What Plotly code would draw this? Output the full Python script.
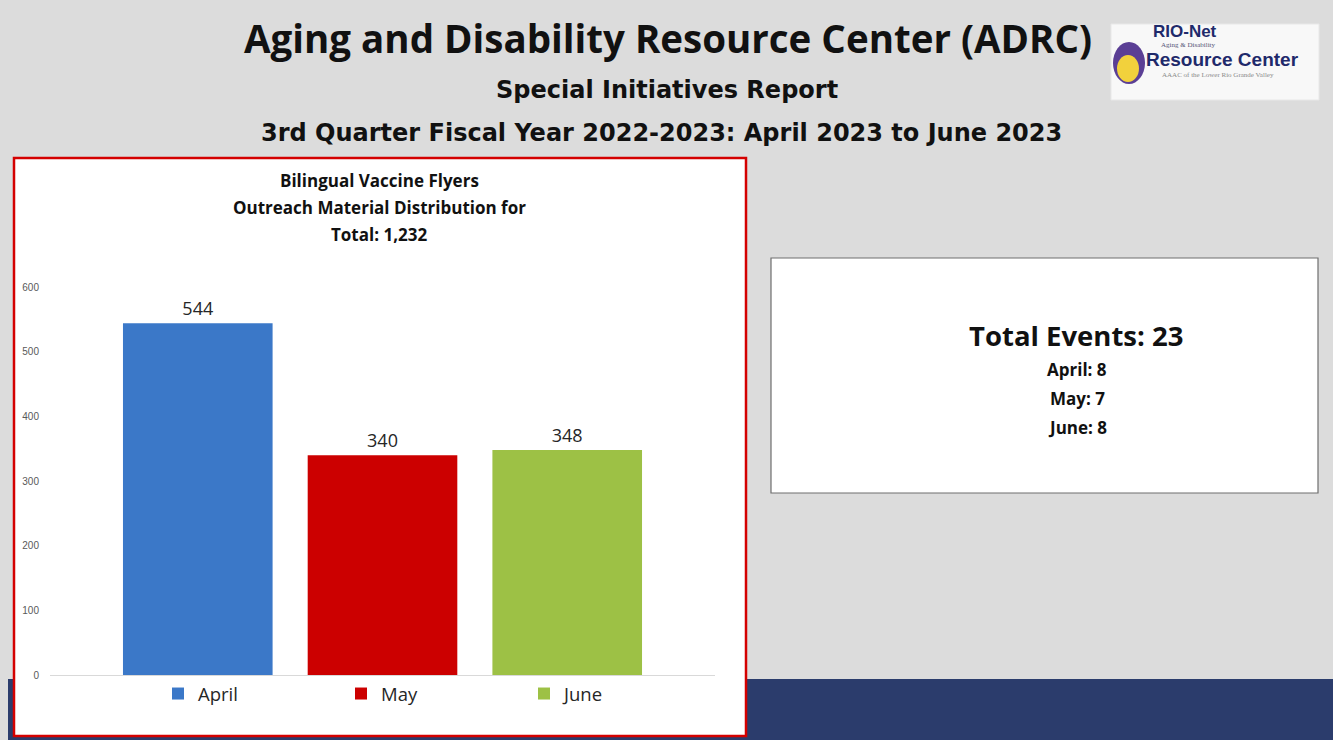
import plotly.graph_objects as go

months = ["April", "May", "June"]
flyers = [544, 340, 348]
bar_colors = ["#3b78c8", "#cc0000", "#9dc145"]
events = [8, 7, 8]
y_ticks = [0, 100, 200, 300, 400, 500, 600]

W, H = 1333, 740
L, R, T, B = 50, 715, 287, 675  # plot area in pixels

def px(x):
    return (x - L) / (R - L)

def py(y):
    return (B - y) / (B - T)

FONT = "Open Sans"

fig = go.Figure()
for m, v, c in zip(months, flyers, bar_colors):
    fig.add_trace(go.Bar(
        x=[m], y=[v], name=m, marker=dict(color=c, line=dict(width=0)),
        width=0.81, text=[str(v)], textposition="outside",
        textfont=dict(size=18, color="#262626", family=FONT),
        cliponaxis=False,
    ))

shapes = [
    # bottom navy band
    dict(type="rect", xref="paper", yref="paper", x0=px(8), x1=px(W + 5), y0=py(679), y1=py(H + 5),
         fillcolor="#2b3c6c", line=dict(width=0), layer="below"),
    # chart panel
    dict(type="rect", xref="paper", yref="paper", x0=px(14), x1=px(746), y0=py(158), y1=py(736),
         fillcolor="white", line=dict(color="#d40000", width=2.5), layer="below"),
    # events box
    dict(type="rect", xref="paper", yref="paper", x0=px(771), x1=px(1318), y0=py(258), y1=py(493),
         fillcolor="white", line=dict(color="#6e6e6e", width=1.2), layer="below"),
    # logo box
    dict(type="rect", xref="paper", yref="paper", x0=px(1111), x1=px(1319), y0=py(24), y1=py(100),
         fillcolor="#f8f8f8", line=dict(color="#e8e8e8", width=1), layer="below"),
    dict(type="circle", xref="paper", yref="paper", x0=px(1113), x1=px(1145), y0=py(42), y1=py(84),
         fillcolor="#5b3f95", line=dict(width=0), layer="below"),
    dict(type="circle", xref="paper", yref="paper", x0=px(1117), x1=px(1139), y0=py(55), y1=py(82),
         fillcolor="#f2d13c", line=dict(width=0), layer="below"),
]

ann = []
def text(x, y, s, size, color="#111111", bold=True, family=FONT, xanchor="center"):
    ann.append(dict(xref="paper", yref="paper", x=px(x), y=py(y), text=(f"<b>{s}</b>" if bold else s),
                    showarrow=False, xanchor=xanchor, yanchor="middle",
                    font=dict(size=size, color=color, family=family)))

text(668, 38, "Aging and Disability Resource Center (ADRC)", 38.5)
text(667, 90, "Special Initiatives Report", 24, family="DejaVu Sans")
text(661, 133, "3rd Quarter Fiscal Year 2022-2023: April 2023 to June 2023", 24, family="DejaVu Sans")

text(379, 180, "Bilingual Vaccine Flyers", 17)
text(379, 207, "Outreach Material Distribution for", 17)
text(379, 234, "Total: " + format(sum(flyers), ","), 17)

text(1076, 335, "Total Events: " + str(sum(events)), 27.5)
for i, (m, e) in enumerate(zip(months, events)):
    text(1077, 369 + 29 * i, f"{m}: {e}", 17)

# logo text
text(1185, 32, "RIO-Net", 17, color="#1f2a6b", family="Liberation Sans")
text(1188, 45, "Aging &amp; Disability", 7, color="#555577", bold=False, family="Liberation Serif")
text(1222, 59, "Resource Center", 19, color="#1f2a6b", family="Liberation Sans")
text(1218, 75, "AAAC of the Lower Rio Grande Valley", 7, color="#8a8a8a", bold=False, family="Liberation Serif")

fig.update_layout(
    width=W, height=H,
    margin=dict(l=L, r=W - R, t=T, b=H - B, pad=0),
    paper_bgcolor="#dcdcdc", plot_bgcolor="rgba(0,0,0,0)",
    barmode="overlay",
    shapes=shapes, annotations=ann,
    showlegend=True,
    legend=dict(orientation="h", x=px(158), y=py(694), xanchor="left", yanchor="middle",
                entrywidth=138, entrywidthmode="pixels", bgcolor="rgba(0,0,0,0)",
                font=dict(size=18.5, color="#262626", family=FONT), traceorder="normal"),
    font=dict(family=FONT),
)
fig.update_xaxes(range=[-0.8, 2.8], showticklabels=False, showgrid=False, zeroline=False,
                 showline=True, linecolor="#d9d9d9", linewidth=1, ticks="")
fig.update_yaxes(range=[0, 600], tickvals=y_ticks, showgrid=False, zeroline=False, showline=False,
                 tickfont=dict(size=10, color="#595959", family="Liberation Sans"), ticks="",
                 ticklabelstandoff=10)

fig.write_html("out.html", config={"displayModeBar": False},
               post_script="document.body.style.margin='0px';")
